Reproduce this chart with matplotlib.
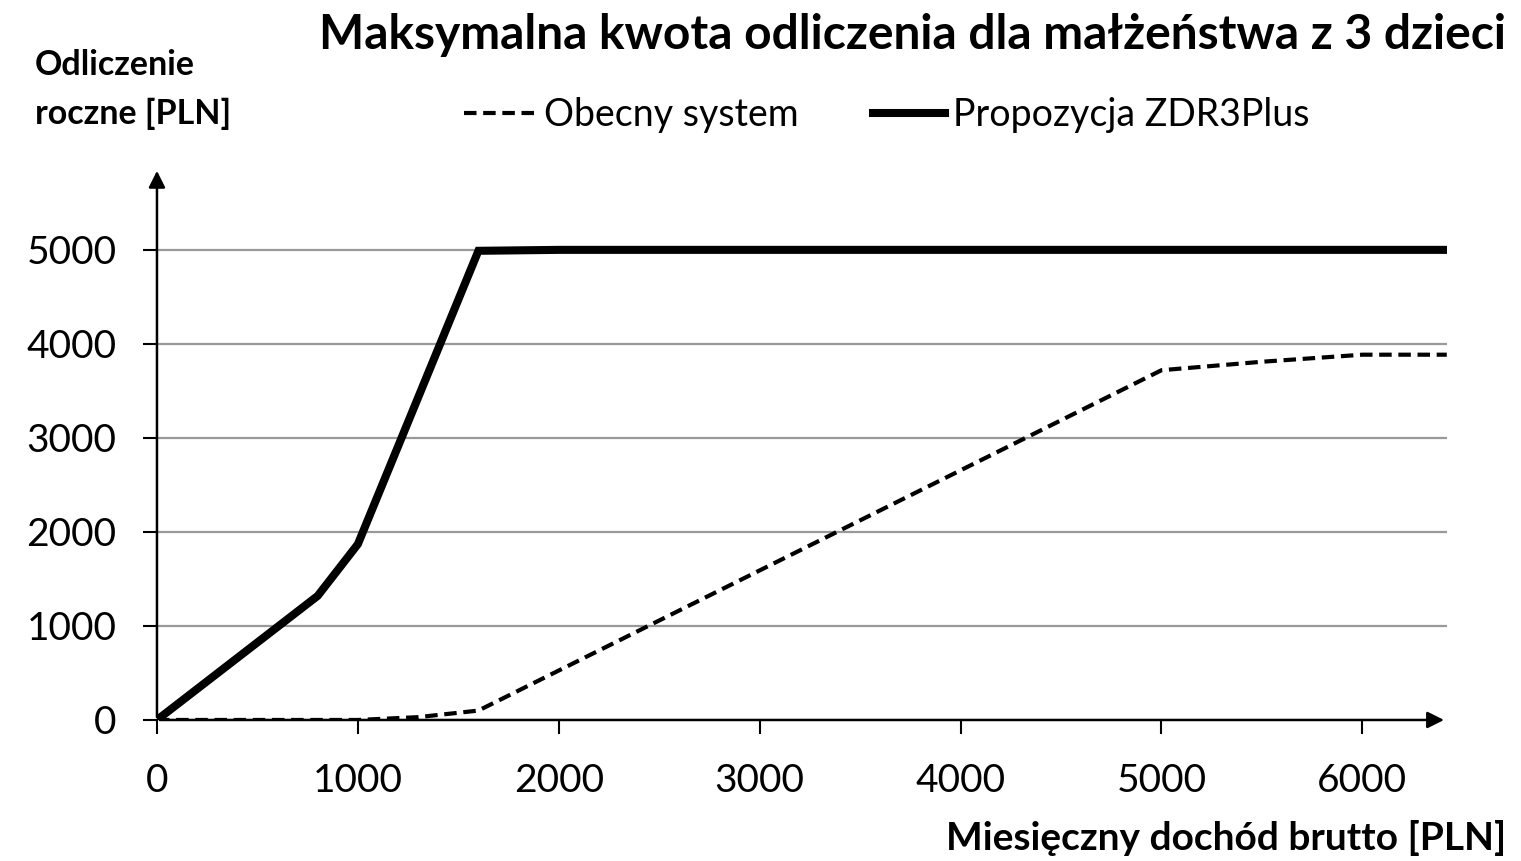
import matplotlib
matplotlib.use('Agg')
import matplotlib.pyplot as plt

plt.rcParams['font.family'] = ['Lato', 'DejaVu Sans']

# dane
dochod_obecny = [0, 1000, 1300, 1600, 5000, 5500, 6000, 6420]
odlicz_obecny = [0, 0, 30, 100, 3720, 3810, 3885, 3885]
dochod_zdr = [0, 800, 1000, 1600, 2000, 6420]
odlicz_zdr = [0, 1320, 1870, 4990, 5000, 5000]
xticks = [0, 1000, 2000, 3000, 4000, 5000, 6000]
yticks = [0, 1000, 2000, 3000, 4000, 5000]

fig = plt.figure(figsize=(15.21, 8.61), dpi=100)
ax = fig.add_axes([0.1032, 0.1638, 0.848, 0.641])

for y in yticks[1:]:
    ax.axhline(y, color='#999999', lw=1.6, zorder=1)

ax.plot(dochod_obecny, odlicz_obecny, color='black', lw=3, ls=(0, (3, 1.6)),
        label='Obecny system', zorder=3)
ax.plot(dochod_zdr, odlicz_zdr, color='black', lw=5.8, solid_joinstyle='miter',
        label='Propozycja ZDR3Plus', zorder=4)

ax.set_xlim(0, 6420)
ax.set_ylim(0, 5870)
ax.set_xticks(xticks)
ax.set_yticks(yticks)
ax.tick_params(axis='both', labelsize=28, length=10, width=1.5, direction='out')
ax.tick_params(axis='x', pad=21)
ax.tick_params(axis='y', pad=19)
for s in ax.spines.values():
    s.set_visible(False)

# osie ze strzalkami
ax.annotate('', xy=(1.0, 0), xytext=(0, 0), xycoords='axes fraction',
            arrowprops=dict(arrowstyle='-|>', color='black', lw=1.8, mutation_scale=25))
ax.annotate('', xy=(0, 1.0), xytext=(0, 0), xycoords='axes fraction',
            arrowprops=dict(arrowstyle='-|>', color='black', lw=1.8, mutation_scale=25))

fig.text(0.99, 0.959, 'Maksymalna kwota odliczenia dla małżeństwa z 3 dzieci',
         ha='right', va='center', fontsize=34.5, fontweight='bold')
fig.text(0.023, 0.896, 'Odliczenie\nroczne [PLN]', ha='left', va='center',
         fontsize=24.5, fontweight='bold', linespacing=1.65)
fig.text(0.99, 0.027, 'Miesięczny dochód brutto [PLN]', ha='right', va='center',
         fontsize=28, fontweight='bold')

fig.legend(loc='center', bbox_to_anchor=(0.583, 0.866), ncol=2, frameon=False,
           fontsize=27, handlelength=1.9, handletextpad=0.22, columnspacing=2.0)

fig.savefig('out.png', dpi=100)
